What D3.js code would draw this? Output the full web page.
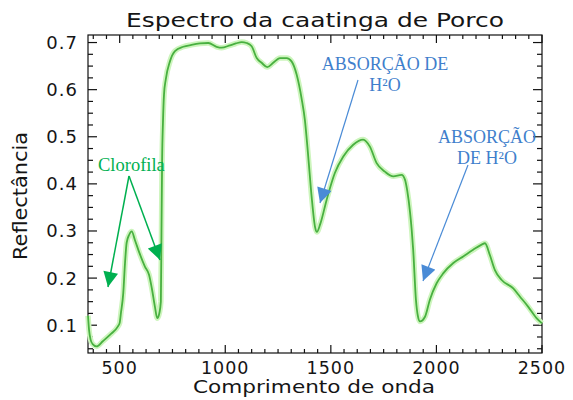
<!DOCTYPE html>
<html>
<head>
<meta charset="utf-8">
<script src="https://cdn.jsdelivr.net/npm/d3@7/dist/d3.min.js"></script>
<style>
body{margin:0;background:#fff;}
text{font-family:"DejaVu Sans",sans-serif;fill:#151515;}
</style>
</head>
<body>
<svg id="chart" width="573" height="400"></svg>
<script>
// spectrum (nm, reflectance)
var wavelength = [350,355,362,372,391,420,460,491,500,506,517,525,533,545,557,572,593,620,639,652,667,678,688,695,698,701,705,710,718,738,762,801,840,880,920,959,983,1022,1050,1078,1101,1125,1149,1172,1199,1227,1259,1291,1314,1338,1362,1377,1393,1409,1425,1434,1450,1480,1519,1559,1606,1653,1685,1717,1756,1796,1835,1851,1862,1875,1883,1890,1903,1912,1922,1946,1969,2001,2032,2080,2127,2174,2214,2230,2253,2277,2309,2364,2395,2435,2474,2500];
var reflectance = [0.120,0.090,0.070,0.060,0.055,0.066,0.082,0.097,0.105,0.126,0.168,0.230,0.275,0.292,0.299,0.281,0.254,0.224,0.207,0.179,0.139,0.115,0.126,0.150,0.300,0.450,0.530,0.590,0.621,0.660,0.682,0.691,0.695,0.698,0.699,0.691,0.689,0.694,0.698,0.701,0.699,0.692,0.667,0.657,0.648,0.657,0.667,0.667,0.660,0.632,0.580,0.536,0.458,0.373,0.309,0.298,0.315,0.366,0.423,0.458,0.483,0.494,0.479,0.444,0.426,0.416,0.419,0.409,0.385,0.340,0.302,0.260,0.154,0.120,0.108,0.118,0.154,0.189,0.210,0.232,0.246,0.260,0.271,0.274,0.249,0.217,0.196,0.178,0.161,0.139,0.115,0.104];
var xTicks = [500,1000,1500,2000,2500];
var yTicks = [0.1,0.2,0.3,0.4,0.5,0.6,0.7];
var yTickLabels = ["0.1","0.2","0.3","0.4","0.5","0.6","0.7"];
var xDomain = [350,2500];
var yDomain = [0.041,0.716];

var svg = d3.select("#chart");
var m = {left:88,right:542,top:35,bottom:353};

var x = d3.scaleLinear().domain(xDomain).range([m.left,m.right]);
var y = d3.scaleLinear().domain(yDomain).range([m.bottom,m.top]);

var data = wavelength.map(function(w,i){ return {w:w, v:reflectance[i]}; });

/* ticks, IDL style: all sides, pointing inward */
var xMinor = d3.range(375, 2500.1, 62.5);
var yMinor = d3.range(0.05, 0.7001, 0.025);

var ax = svg.append("g").attr("stroke","#111").attr("stroke-width",1.2);

ax.append("rect")
  .attr("x",m.left).attr("y",m.top)
  .attr("width",m.right-m.left).attr("height",m.bottom-m.top)
  .attr("fill","none");

function isMajorX(d){ return Math.abs(d/500 - Math.round(d/500)) < 1e-6; }
function isMajorY(d){ return Math.abs(d*10 - Math.round(d*10)) < 1e-6; }

xMinor.forEach(function(d){
	var len = isMajorX(d) ? 8 : 4;
	ax.append("line").attr("x1",x(d)).attr("x2",x(d)).attr("y1",m.bottom).attr("y2",m.bottom-len);
	ax.append("line").attr("x1",x(d)).attr("x2",x(d)).attr("y1",m.top).attr("y2",m.top+len);
});
yMinor.forEach(function(d){
	var len = isMajorY(d) ? 9 : 5;
	ax.append("line").attr("x1",m.left).attr("x2",m.left+len).attr("y1",y(d)).attr("y2",y(d));
	ax.append("line").attr("x1",m.right).attr("x2",m.right-len).attr("y1",y(d)).attr("y2",y(d));
});

svg.append("g").selectAll("text").data(xTicks).enter().append("text")
   .attr("x",function(d){ return x(d); })
   .attr("y",374)
   .attr("text-anchor","middle")
   .attr("font-size",17.5)
   .attr("letter-spacing",1)
   .text(function(d){ return d; });

svg.append("g").selectAll("text").data(yTicks).enter().append("text")
   .attr("x",78)
   .attr("y",function(d){ return y(d); })
   .attr("dy","0.36em")
   .attr("text-anchor","end")
   .attr("font-size",18)
   .attr("letter-spacing",1)
   .text(function(d,i){ return yTickLabels[i]; });

svg.append("text")
   .attr("x",315).attr("y",27)
   .attr("text-anchor","middle")
   .attr("font-size",20)
   .attr("textLength",378).attr("lengthAdjust","spacingAndGlyphs")
   .text("Espectro da caatinga de Porco");

svg.append("text")
   .attr("x",314).attr("y",393)
   .attr("text-anchor","middle")
   .attr("font-size",17)
   .attr("textLength",242).attr("lengthAdjust","spacingAndGlyphs")
   .text("Comprimento de onda");

svg.append("text")
   .attr("transform","translate(27,196) rotate(-90)")
   .attr("text-anchor","middle")
   .attr("font-size",19)
   .attr("textLength",128).attr("lengthAdjust","spacingAndGlyphs")
   .text("Reflectância");

/* spectrum line with light halo */
var line = d3.line()
             .x(function(d){ return x(d.w); })
             .y(function(d){ return y(d.v); })
             .curve(d3.curveMonotoneX);

svg.append("path").attr("d",line(data))
   .attr("fill","none").attr("stroke","#cdf5bd").attr("stroke-width",5.5)
   .attr("stroke-linejoin","round");
svg.append("path").attr("d",line(data))
   .attr("fill","none").attr("stroke","#48b040").attr("stroke-width",1.8)
   .attr("stroke-linejoin","round");

/* annotations */
var defs = svg.append("defs");
function marker(id,color){
	defs.append("marker").attr("id",id)
	    .attr("viewBox","0 0 10 10").attr("refX",10).attr("refY",5)
	    .attr("markerUnits","userSpaceOnUse")
	    .attr("markerWidth",17).attr("markerHeight",15)
	    .attr("orient","auto")
	    .append("path").attr("d","M0,0L10,5L0,10Z").attr("fill",color);
}
marker("gArrow","#00b050");
marker("bArrow","#4a8bd6");

var green = "#00b050", blue = "#3f7fcc";

svg.append("text").attr("x",98).attr("y",171)
   .style("font-family","'Liberation Serif',serif").style("fill",green)
   .attr("font-size",18.5).text("Clorofila");

[[108,287],[160,260]].forEach(function(t){
	svg.append("line").attr("x1",129).attr("y1",176).attr("x2",t[0]).attr("y2",t[1])
	   .attr("stroke",green).attr("stroke-width",1.5).attr("marker-end","url(#gArrow)");
});

svg.append("text").attr("x",385).attr("y",70).attr("text-anchor","middle")
   .style("font-family","'Liberation Serif',serif").style("fill",blue)
   .attr("font-size",18).text("ABSORÇÃO DE");
svg.append("text").attr("x",385).attr("y",91).attr("text-anchor","middle")
   .style("font-family","'Liberation Serif',serif").style("fill",blue)
   .attr("font-size",18).text("H²O");
svg.append("line").attr("x1",358).attr("y1",80).attr("x2",320).attr("y2",203)
   .attr("stroke","#4a8bd6").attr("stroke-width",1.2).attr("marker-end","url(#bArrow)");

svg.append("text").attr("x",487).attr("y",143).attr("text-anchor","middle")
   .style("font-family","'Liberation Serif',serif").style("fill",blue)
   .attr("font-size",18).text("ABSORÇÃO");
svg.append("text").attr("x",487).attr("y",164).attr("text-anchor","middle")
   .style("font-family","'Liberation Serif',serif").style("fill",blue)
   .attr("font-size",18).text("DE H²O");
svg.append("line").attr("x1",468).attr("y1",165).attr("x2",423).attr("y2",281)
   .attr("stroke","#4a8bd6").attr("stroke-width",1.2).attr("marker-end","url(#bArrow)");
</script>
</body>
</html>
